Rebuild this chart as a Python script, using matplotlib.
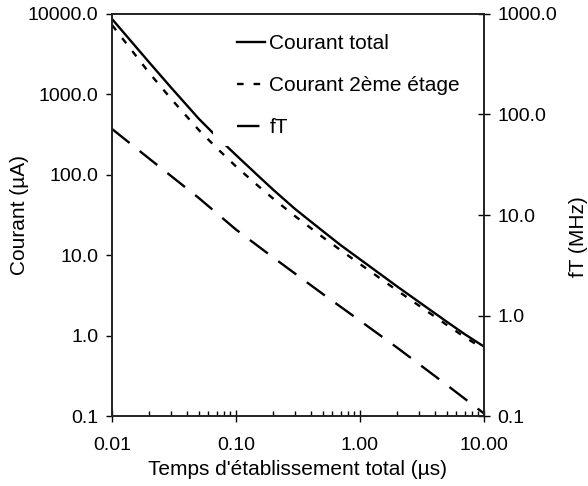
import matplotlib
matplotlib.use("Agg")
import matplotlib.pyplot as plt
from matplotlib.patches import Rectangle
from matplotlib.ticker import NullLocator, FixedLocator, FixedFormatter

plt.rcParams['font.family'] = ['Liberation Sans', 'DejaVu Sans']

# temps d'etablissement total (us)
temps = [0.01, 0.02, 0.03, 0.05, 0.07, 0.1, 0.15, 0.2, 0.3, 0.5, 0.7, 1, 2, 3, 5, 7, 10]
# courants (uA), axe de gauche
courant_total = [8670, 2490, 1213, 500, 297, 176, 98, 65, 37.5, 20, 13.3, 8.9,
                 4.07, 2.61, 1.49, 1.04, 0.73]
courant_2eme = [7300, 1845, 879, 362, 215, 127, 73.3, 50.4, 30.5, 16.8, 11.5, 7.76,
                3.63, 2.35, 1.36, 0.957, 0.68]
# fT (MHz), axe de droite
temps_ft = [0.01, 0.02, 0.05, 0.1, 0.2, 0.5, 1, 2, 5, 10]
ft = [71.8, 36.3, 14.8, 7.16, 3.77, 1.64, 0.887, 0.477, 0.204, 0.106]

x_ticks = [0.01, 0.1, 1, 10]
x_labels = ["0.01", "0.10", "1.00", "10.00"]
y1_ticks = [0.1, 1, 10, 100, 1000, 10000]
y1_labels = ["0.1", "1.0", "10.0", "100.0", "1000.0", "10000.0"]
y2_ticks = [0.1, 1, 10, 100, 1000]
y2_labels = ["0.1", "1.0", "10.0", "100.0", "1000.0"]


def main():
    fig = plt.figure(figsize=(5.88, 4.86), dpi=100)
    ax = fig.add_axes([112 / 588, 1 - 416 / 486, 372 / 588, 402 / 486])
    ax2 = ax.twinx()

    l1, = ax.plot(temps, courant_total, color='black', lw=1.7, label="Courant total")
    l2, = ax.plot(temps, courant_2eme, color='black', lw=1.7, dashes=(2.8, 4.2),
                  label="Courant 2ème étage")
    l3, = ax2.plot(temps_ft, ft, color='black', lw=1.7, dashes=(9.5, 5.5), label="fT")

    # fond blanc de la legende
    ax2.add_patch(Rectangle((213 / 588, 1 - 146 / 486), (470 - 213) / 588, (146 - 20) / 486,
                            transform=fig.transFigure, facecolor='white',
                            edgecolor='none', zorder=3))

    for a in (ax, ax2):
        a.set_xscale('log')
        a.set_yscale('log')
        a.set_xlim(0.01, 10)
    ax.set_ylim(0.1, 10000)
    ax2.set_ylim(0.1, 1000)

    ax.xaxis.set_major_locator(FixedLocator(x_ticks))
    ax.xaxis.set_major_formatter(FixedFormatter(x_labels))
    ax.yaxis.set_major_locator(FixedLocator(y1_ticks))
    ax.yaxis.set_major_formatter(FixedFormatter(y1_labels))
    ax.yaxis.set_minor_locator(NullLocator())
    ax2.yaxis.set_major_locator(FixedLocator(y2_ticks))
    ax2.yaxis.set_major_formatter(FixedFormatter(y2_labels))
    ax2.yaxis.set_minor_locator(NullLocator())

    ax.tick_params(axis='x', which='major', direction='inout', length=8, width=1,
                   labelsize=14, pad=11, top=False)
    ax.tick_params(axis='x', which='minor', direction='in', length=3.6, width=1, top=False)
    ax.tick_params(axis='y', which='major', direction='out', length=4.3, width=1,
                   labelsize=14, pad=5.5)
    ax2.tick_params(axis='y', which='major', direction='inout', length=8.6, width=1,
                    labelsize=14, pad=5.5)

    for a in (ax, ax2):
        for s in a.spines.values():
            s.set_linewidth(1.2)
            s.set_color('#222222')

    ax.set_xlabel("Temps d'établissement total (µs)", fontsize=15)
    ax.set_ylabel("Courant (µA)", fontsize=15)
    ax2.set_ylabel("fT (MHz)", fontsize=15)
    ax.xaxis.set_label_coords(0.5, -0.110)
    ax.yaxis.set_label_coords(-0.222, 0.5)
    ax2.yaxis.set_label_coords(1.228, 0.445)

    ax2.legend(handles=[l1, l2, l3], loc='upper left', frameon=False,
               bbox_to_anchor=(237 / 588, 1 - 34 / 486), bbox_transform=fig.transFigure,
               borderpad=0, borderaxespad=0, handlelength=1.35, handletextpad=0.2,
               labelspacing=1.1, fontsize=15)

    fig.savefig("out.png", dpi=100)


if __name__ == '__main__':
    main()
